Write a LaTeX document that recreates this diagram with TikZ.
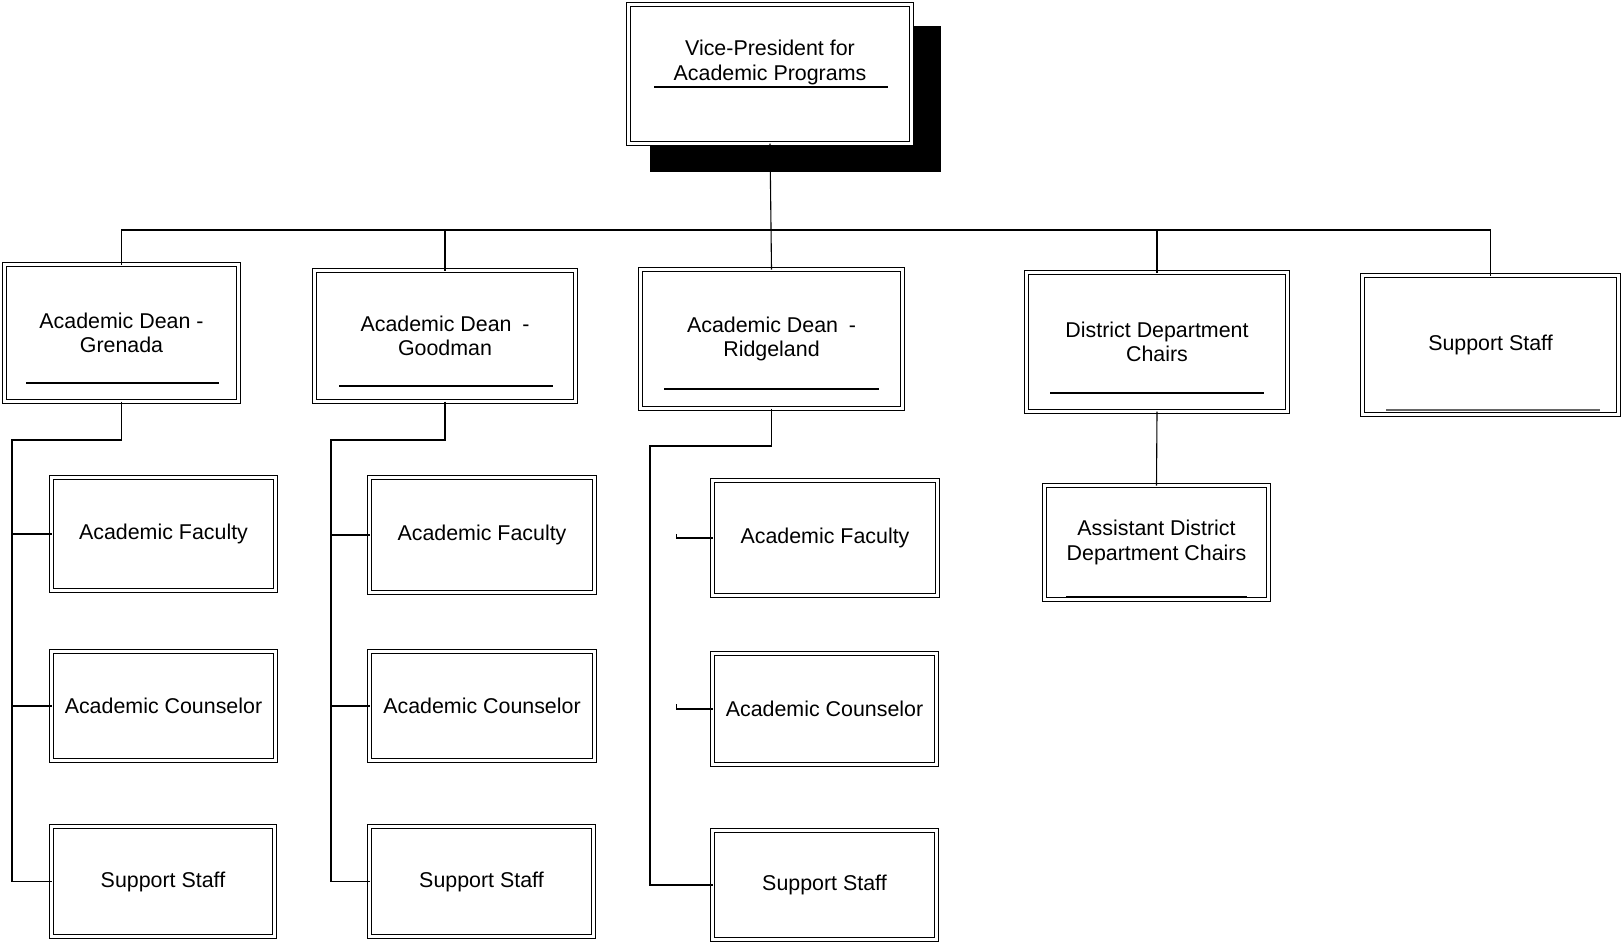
\documentclass[tikz,border=0pt]{standalone}
\usepackage{fontspec}
\setmainfont{Liberation Sans}
\begin{document}
\begin{tikzpicture}[x=0.5pt,y=-0.5pt,
  orgbox/.style={draw, double, double distance=1.3pt, line width=0.6pt,
    fill=white, inner sep=0pt, outer sep=0pt, align=center,
    font=\fontsize{10.7}{12.3}\selectfont},
  link/.style={line width=0.55pt},
  rule/.style={line width=0.8pt}]
\useasboundingbox (0,0) rectangle (1622,943);

% bus and branch points
\coordinate (busL) at (121.5,230);
\coordinate (busR) at (1490.5,230);
\coordinate (g1) at (12,440);
\coordinate (g2) at (331,440);
\coordinate (g3) at (650,446);

% top box with its drop shadow
\fill[black] (650,26) rectangle (941,172);
\node[orgbox, minimum width=141.5pt, minimum height=69.5pt] (vp) at (770,74)
  {Vice-President for\\Academic Programs\\[1.5pt]\mbox{}};

% second level
\node[orgbox, minimum width=117pt, minimum height=68.5pt] (gre) at (121.5,333)
  {Academic Dean -\\Grenada};
\node[orgbox, minimum width=130.5pt, minimum height=65.5pt] (goo) at (445,336)
  {Academic Dean\enspace-\\Goodman};
\node[orgbox, minimum width=131pt, minimum height=69.5pt] (rid) at (771.5,339)
  {Academic Dean\enspace-\\Ridgeland};
\node[orgbox, minimum width=130.5pt, minimum height=69.5pt] (ddc) at (1157,342)
  {District Department\\Chairs};
\node[orgbox, minimum width=128pt, minimum height=69.5pt] (sst) at (1490.5,345)
  {Support Staff};

% Grenada staff
\node[orgbox, minimum width=112pt, minimum height=56.5pt] (gaf) at (163.5,534) {Academic Faculty};
\node[orgbox, minimum width=112pt, minimum height=54.5pt] (gac) at (163.5,706) {Academic Counselor};
\node[orgbox, minimum width=111.5pt, minimum height=55pt] (gss) at (163,881.5) {Support Staff};

% Goodman staff
\node[orgbox, minimum width=112.5pt, minimum height=57.5pt] (oaf) at (482,535) {Academic Faculty};
\node[orgbox, minimum width=112.5pt, minimum height=54.5pt] (oac) at (482,706) {Academic Counselor};
\node[orgbox, minimum width=112pt, minimum height=55pt] (oss) at (481.5,881.5) {Support Staff};

% Ridgeland staff
\node[orgbox, minimum width=112.5pt, minimum height=57.5pt] (raf) at (825,538) {Academic Faculty};
\node[orgbox, minimum width=112pt, minimum height=55.5pt] (rac) at (824.5,709) {Academic Counselor};
\node[orgbox, minimum width=112pt, minimum height=54.5pt] (rss) at (824.5,885) {Support Staff};

% assistant chairs
\node[orgbox, minimum width=112pt, minimum height=57pt] (adc) at (1156.5,542.5)
  {Assistant District\\Department Chairs};

% connectors
\draw[link] (gre.north) -- (busL) -- (busR) -- (sst.north);
\draw[link] (goo.north) -- (goo.north |- busL);
\draw[link] (ddc.north) -- (ddc.north |- busL);
\draw[link] (vp.south) -- (rid.north);
\draw[link] (ddc.south) -- (adc.north);

\draw[link] (gre.south) |- (g1) |- (gss.west);
\draw[link] (g1) |- (gaf.west);
\draw[link] (g1) |- (gac.west);

\draw[link] (goo.south) |- (g2) |- (oss.west);
\draw[link] (g2) |- (oaf.west);
\draw[link] (g2) |- (oac.west);

\draw[link] (rid.south) |- (g3) |- (rss.west);
\draw[link] (raf.west) -- ++(-36,0) -- ++(0,-4);
\draw[link] (rac.west) -- ++(-36,0) -- ++(0,-5);

% rules under the titles
\draw[rule] (654,87) -- (888,87);
\draw[rule] (26,383) -- (219,383);
\draw[rule] (339,386) -- (553,386);
\draw[rule] (664,389) -- (879,389);
\draw[rule] (1050,393) -- (1264,393);
\draw[rule, black!60] (1386,410) -- (1600,410);
\draw[line width=1.2pt] (1066,597) -- (1247,597);
\end{tikzpicture}
\end{document}
